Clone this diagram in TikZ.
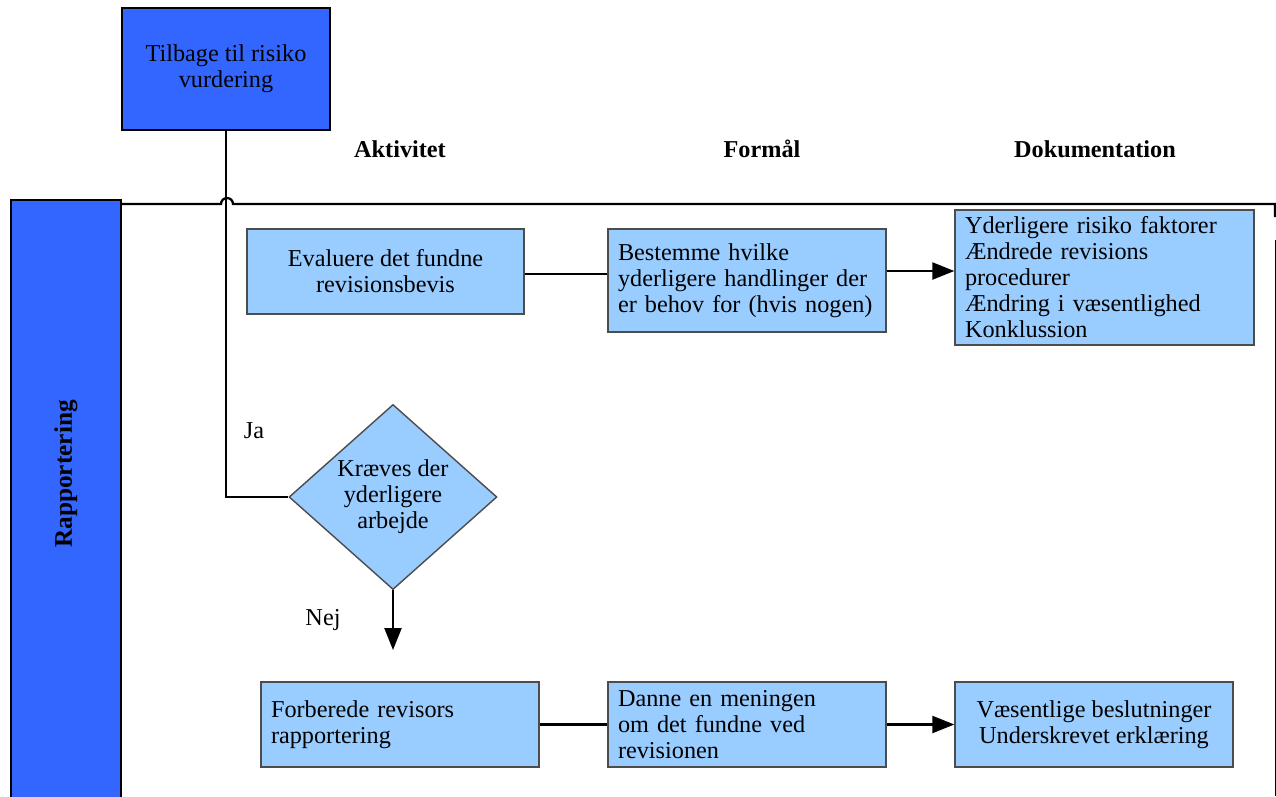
\documentclass[tikz,border=0pt]{standalone}
\usepackage{fontspec}
\setmainfont{Liberation Serif}
\usetikzlibrary{shapes.geometric,arrows.meta}
\definecolor{laneblue}{HTML}{3366FF}
\definecolor{boxblue}{HTML}{99CCFF}
\begin{document}
\begin{tikzpicture}[x=0.02cm,y=-0.02cm,
  every node/.style={font=\fontsize{13.8pt}{14.8pt}\selectfont},
  darkbox/.style={draw=black, line width=0.9pt, fill=laneblue, inner sep=0pt, align=center},
  lightbox/.style={draw=black!70, line width=0.8pt, fill=boxblue, inner sep=0pt, minimum width=5.56cm, minimum height=1.7cm},
  lefttext/.style={align=left, text width=5.16cm},
  centertext/.style={align=center},
  decision/.style={diamond, draw=black!70, line width=0.8pt, fill=boxblue, inner sep=0pt,
                   minimum width=4.16cm, minimum height=3.64cm, align=center},
  head/.style={font=\fontsize{13.8pt}{14.8pt}\selectfont\bfseries},
  conn/.style={line width=1.3pt},
  arr/.style={line width=1.3pt, -{Triangle[length=0.44cm,width=0.34cm]}}]
\useasboundingbox (0,0) rectangle (1276,796);
\clip (0,0) rectangle (1276,796);

% swimlane header and frame
\node[darkbox, minimum width=2.2cm, minimum height=12.8cm, anchor=north] (lane) at (66,199) {};
\node[head, font=\fontsize{14.4pt}{15pt}\selectfont\bfseries, rotate=90] (lanelabel) at (66,474) {Rapportering};
\draw[conn] (121,204) -- (221,204) arc[start angle=180, end angle=0, radius=0.12cm]
  -- (1275,204) -- (1275,217);
\draw[conn] (1276,240) -- (1276,796);

% column headings
\node[head] (hAkt) at (400,149) {Aktivitet};
\node[head] (hForm) at (762,149) {Formål};
\node[head] (hDok) at (1095,149) {Dokumentation};

% return box
\node[darkbox, minimum width=4.16cm, minimum height=2.44cm] (back) at (226,69) {Tilbage til risiko\\vurdering};

% first row
\node[lightbox, minimum width=5.54cm, centertext] (eval) at (385.5,271.5) {Evaluere det fundne\\revisionsbevis};
\node[lightbox, minimum height=2.06cm, lefttext] (best) at (747,280.5)
  {Bestemme hvilke\\yderligere handlinger der\\er behov for (hvis nogen)};
\node[lightbox, minimum width=5.98cm, minimum height=2.7cm, lefttext, text width=5.58cm] (dok1) at (1104.5,277.5)
  {Yderligere risiko faktorer\\Ændrede revisions\\procedurer\\Ændring i væsentlighed\\Konklussion};

% decision
\node[decision] (dec) at (393,497) {Kræves der\\yderligere\\arbejde};
\coordinate (nejend) at (393,650);
\node (ja) at (254,431) {Ja};
\node (nej) at (323,620) {Nej};

% second row
\node[lightbox, lefttext] (forb) at (400,724.5) {Forberede revisors\\rapportering};
\node[lightbox, lefttext] (danne) at (747,724.5) {Danne en meningen\\om det fundne ved\\revisionen};
\node[lightbox, centertext] (dok2) at (1094,724.5) {Væsentlige beslutninger\\Underskrevet erklæring};

% connectors
\coordinate (rowone) at (0,271);
\coordinate (rowlink) at (0,274);
\draw[conn] (eval.east |- rowlink) -- (best.west |- rowlink);
\draw[arr] (best.east |- rowone) -- (dok1.west |- rowone);
\draw[conn] (back.south) |- (dec.west);
\draw[arr] (dec.south) -- (nejend);
\draw[conn] (forb.east) -- (forb.east -| danne.west);
\draw[arr] (danne.east) -- (dok2.west);
\end{tikzpicture}
\end{document}
